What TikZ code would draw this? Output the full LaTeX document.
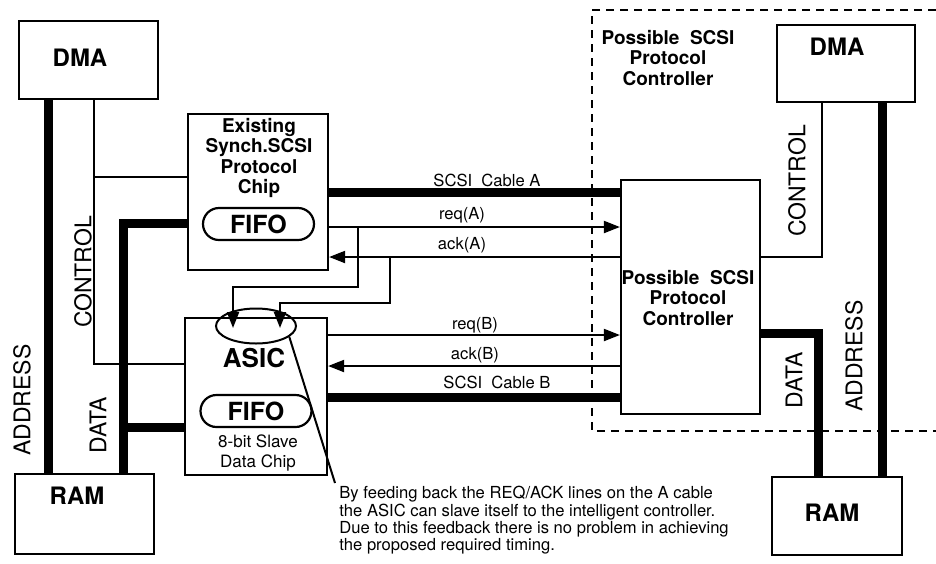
\documentclass[tikz,border=0pt]{standalone}
\usepackage{fontspec}
\setmainfont{TeX Gyre Heros}
\usetikzlibrary{arrows.meta,shapes.geometric,fit}

\begin{document}
\begin{tikzpicture}[
    x=0.5pt, y=-0.5pt,
    box/.style={draw, line width=1.1pt, inner sep=0pt},
    fifo/.style={draw, rounded corners=8pt, line width=1.1pt, inner sep=0pt,
      minimum width=55.5pt, minimum height=16pt, font=\fontsize{12.5}{14}\selectfont\bfseries},
    big/.style={font=\fontsize{12}{14}\selectfont\bfseries},
    title/.style={align=center, font=\fontsize{9.5}{10.3}\selectfont\bfseries},
    side/.style={rotate=90, font=\fontsize{11.5}{13}\selectfont},
    lbl/.style={font=\fontsize{8.3}{10}\selectfont, inner sep=1pt},
    wire/.style={line width=1pt},
    bus/.style={line width=4.5pt},
    arr/.style={wire, -{Triangle[length=8pt,width=6pt]}}
  ]
  \useasboundingbox (0,0) rectangle (936,563);

  \draw[line width=1pt, dash pattern=on 4pt off 3pt] (936,10) -- (592,10) -- (592,431) -- (936,431);

  \node[box, fit={(19,21) (158,99)}] (dmaL) {};
  \node[box, fit={(15,474) (154,554)}] (ramL) {};
  \node[box, fit={(188,114) (328,270)}] (chip) {};
  \node[box, fit={(185,318) (327,475)}] (asic) {};
  \node[box, fit={(621,180) (760,414)}] (ctrl) {};
  \node[box, fit={(777,25) (915,102)}] (dmaR) {};
  \node[box, fit={(772,477) (902,555)}] (ramR) {};

  \node[big] (dmaLt) at (80,58) {DMA};
  \node[big] (ramLt) at (77,496) {RAM};
  \node[big] (dmaRt) at (837,47) {DMA};
  \node[big] (ramRt) at (832,513) {RAM};
  \node[title] (chipt) at (259,158) {Existing\\Synch.SCSI\\Protocol\\Chip};
  \node[fifo] (fifoA) at (258.5,224) {FIFO};
  \node[big, font=\fontsize{13}{15}\selectfont\bfseries] (asict) at (254,358) {ASIC};
  \node[fifo] (fifoB) at (256,411) {FIFO};
  \node[align=center, font=\fontsize{8.5}{10}\selectfont] (asicsub) at (258,453) {8-bit Slave\\Data Chip};
  \node[title] (ctrlt) at (688,298) {Possible~~SCSI\\Protocol\\Controller};
  \node[title] (zonet) at (668,58) {Possible~~SCSI\\Protocol\\Controller};

  \coordinate (addrL) at (48,0);
  \coordinate (ctlL) at (94,364);
  \coordinate (ctlC) at (94,177);
  \coordinate (datL) at (123,223);
  \coordinate (datA) at (123,427);
  \draw[bus] (addrL |- dmaL.south) -- (addrL |- ramL.north);
  \draw[wire] (ctlL |- dmaL.south) -- (ctlL) -- (ctlL -| asic.west);
  \draw[wire] (ctlC) -- (ctlC -| chip.west);
  \draw[bus] (datL -| chip.west) -- (datL) -- (datL |- ramL.north);
  \draw[bus] (datA) -- (datA -| asic.west);
  \node[side] (ctlLt) at (83,272) {CONTROL};
  \node[side] (addrLt) at (22,400) {ADDRESS};
  \node[side] (datLt) at (98,425) {DATA};

  \coordinate (cabA) at (0,192);
  \coordinate (reqA) at (0,227);
  \coordinate (ackA) at (0,257);
  \coordinate (reqB) at (0,335);
  \coordinate (ackB) at (0,366);
  \coordinate (cabB) at (0,397);
  \draw[bus] (cabA -| chip.east) -- (cabA -| ctrl.west);
  \draw[arr] (reqA -| chip.east) -- (reqA -| ctrl.west);
  \draw[arr] (ackA -| ctrl.west) -- (ackA -| chip.east);
  \draw[arr] (reqB -| asic.east) -- (reqB -| ctrl.west);
  \draw[arr] (ackB -| ctrl.west) -- (ackB -| asic.east);
  \draw[bus] (cabB -| asic.east) -- (cabB -| ctrl.west);
  \node[lbl] (cabAt) at (487,180) {SCSI~~Cable A};
  \node[lbl] (reqAt) at (462,215) {req(A)};
  \node[lbl] (ackAt) at (462,245) {ack(A)};
  \node[lbl] (reqBt) at (475,325) {req(B)};
  \node[lbl] (ackBt) at (475,355) {ack(B)};
  \node[lbl] (cabBt) at (497,382) {SCSI~~Cable B};

  \coordinate (fbA) at (358,287);
  \coordinate (fbB) at (390,303);
  \coordinate (inA) at (233,328);
  \coordinate (inB) at (280,328);
  \draw[arr] (fbA |- reqA) -- (fbA) -| (inA);
  \draw[arr] (fbB |- ackA) -- (fbB) -| (inB);
  \node[draw, ellipse, line width=1pt, minimum width=40pt, minimum height=17.5pt, inner sep=0pt] (loop) at (256,326) {};
  \node[anchor=north west, align=left, inner sep=0pt, font=\fontsize{8.3}{8.6}\selectfont] (note) at (339,486)
    {By feeding back the REQ/ACK lines on the A cable\\the ASIC can slave itself to the intelligent controller.\\Due to this feedback there is no problem in achieving\\the proposed required timing.};
  \draw[wire] (loop.-18) -- ([shift={(-4,-3)}]note.north west);

  \coordinate (ctlR) at (822,257);
  \coordinate (addrR) at (882,0);
  \coordinate (datR) at (818,333);
  \draw[wire] (ctlR |- dmaR.south) -- (ctlR) -- (ctlR -| ctrl.east);
  \draw[bus] (addrR |- dmaR.south) -- (addrR |- ramR.north);
  \draw[bus] (datR -| ctrl.east) -- (datR) -- (datR |- ramR.north);
  \node[side] (ctlRt) at (797,181) {CONTROL};
  \node[side] (addrRt) at (854,356) {ADDRESS};
  \node[side] (datRt) at (794,380) {DATA};
\end{tikzpicture}
\end{document}
